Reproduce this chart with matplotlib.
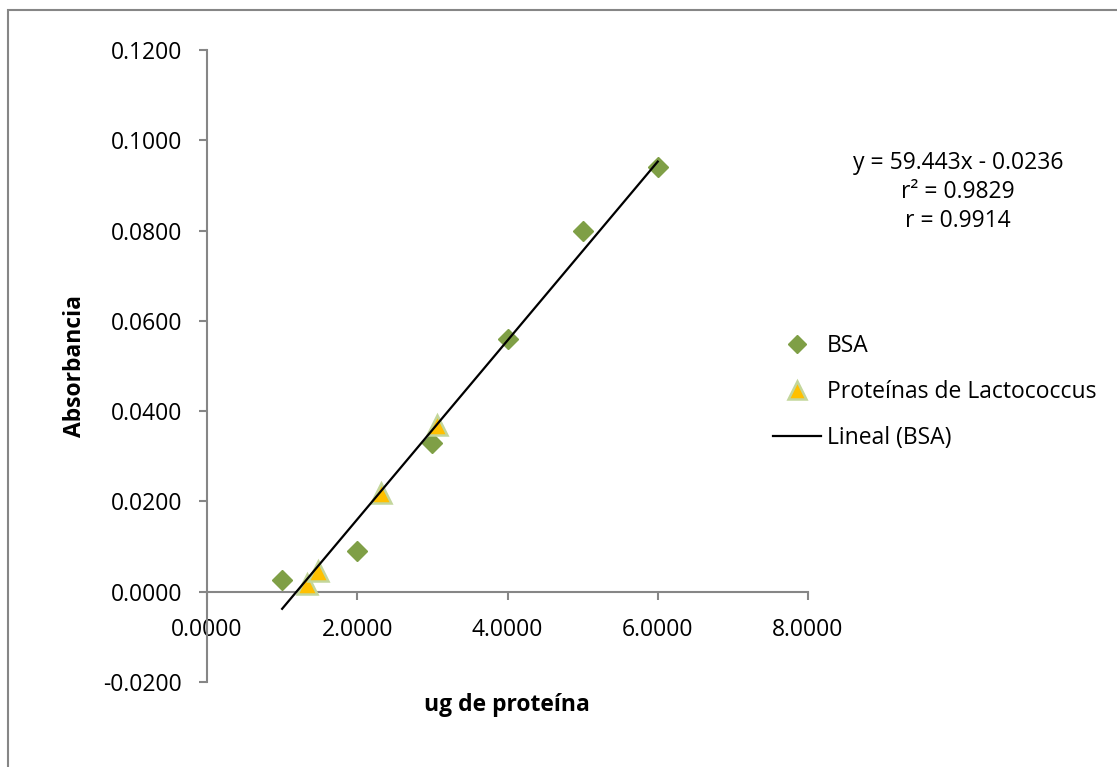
import numpy as np
import matplotlib
matplotlib.use("Agg")
import matplotlib.pyplot as plt
from matplotlib.patches import Rectangle
from matplotlib.ticker import FormatStrFormatter, FixedLocator

# Data
bsa_x = [1.0, 2.0, 3.0, 4.0, 5.0, 6.0]
bsa_y = [0.0025, 0.0090, 0.0330, 0.0560, 0.0800, 0.0940]
lac_x = [1.33, 1.48, 2.32, 3.06]
lac_y = [0.0016, 0.0045, 0.0218, 0.0370]
x_ticks = [0, 2, 4, 6, 8]
y_ticks = [-0.02, 0.0, 0.02, 0.04, 0.06, 0.08, 0.10, 0.12]
eq_lines = ["y = 59.443x - 0.0236", "r² = 0.9829", "r = 0.9914"]

plt.rcParams['font.family'] = ['Open Sans', 'DejaVu Sans']
FS = 16.5

W, H = 1117, 767
fig = plt.figure(figsize=(W / 100, H / 100), dpi=100)
ax = fig.add_axes([207 / W, 1 - 682 / H, (808 - 207) / W, (682 - 50) / H])

grey = '#868686'
green = '#7f9f46'
gold = '#ffc000'
tri_edge = '#c3d69b'

# trend line
slope, inter = np.polyfit(bsa_x, bsa_y, 1)
lx = np.array([min(bsa_x), max(bsa_x)])
ax.plot(bsa_x, bsa_y, linestyle='none', marker='D', markersize=10.5,
        color=green, markeredgecolor=green, label='BSA', zorder=3)
ax.plot(lac_x, lac_y, linestyle='none', marker='^', markersize=14,
        markerfacecolor=gold, markeredgecolor=tri_edge, markeredgewidth=1.8,
        label='Proteínas de Lactococcus', zorder=3)
ax.plot(lx, slope * lx + inter, color='black', linewidth=1.6,
        label='Lineal (BSA)', zorder=4)

for s in ['top', 'right']:
    ax.spines[s].set_visible(False)
ax.spines['bottom'].set_position(('data', 0))
for s in ['left', 'bottom']:
    ax.spines[s].set_color(grey)
    ax.spines[s].set_linewidth(1.5)

ax.set_xlim(0, 8)
ax.set_ylim(-0.02, 0.12)
ax.xaxis.set_major_locator(FixedLocator(x_ticks))
ax.yaxis.set_major_locator(FixedLocator(y_ticks))
ax.xaxis.set_major_formatter(FormatStrFormatter('%.4f'))
ax.yaxis.set_major_formatter(FormatStrFormatter('%.4f'))
ax.tick_params(axis='both', direction='out', length=6, width=1.5, color=grey,
               labelsize=FS)
ax.tick_params(axis='y', pad=12)
ax.tick_params(axis='x', pad=13)
ax.patch.set_alpha(0)

fig.text(75 / W, 1 - 366 / H, 'Absorbancia', rotation=90, fontsize=FS,
         fontweight='bold', ha='center', va='center')
fig.text(507 / W, 1 - 705 / H, 'ug de proteína', fontsize=FS,
         fontweight='bold', ha='center', va='center')

for i, t in enumerate(eq_lines):
    fig.text(958 / W, 1 - (163 + 29 * i) / H, t, fontsize=FS,
             ha='center', va='center')

leg = ax.legend(loc='center left', bbox_to_anchor=(773 / W, 1 - 392 / H),
                bbox_transform=fig.transFigure, frameon=False, fontsize=FS,
                handlelength=2.1, handletextpad=0.25, labelspacing=0.95,
                borderpad=0, borderaxespad=0, markerscale=0.9)

# outer chart border
fig.patches.append(Rectangle((7.5 / W, -0.1), 1.2, 1 - 9.5 / H + 0.1,
                             transform=fig.transFigure, fill=False,
                             edgecolor=grey, linewidth=1.5))

fig.savefig('out.png', dpi=100)
